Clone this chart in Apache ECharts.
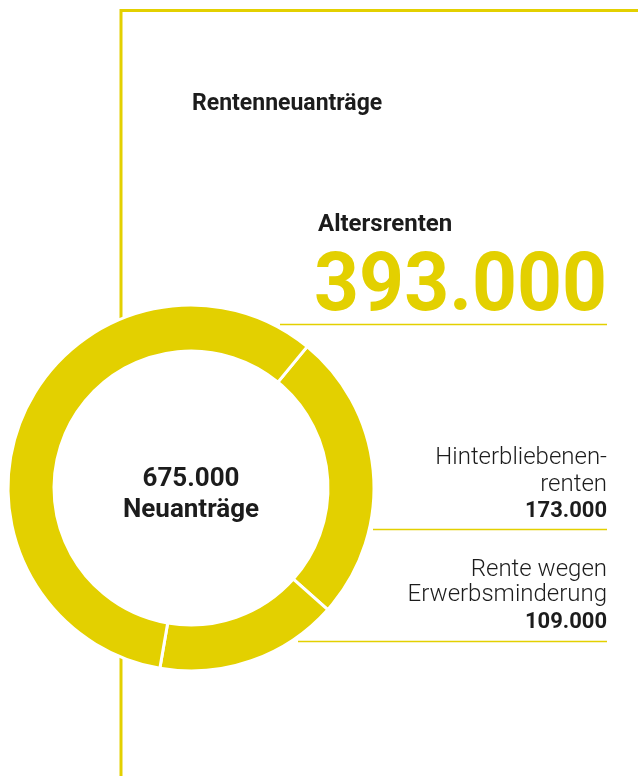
<!DOCTYPE html>
<html>
<head>
<meta charset="utf-8">
<script src="https://cdn.jsdelivr.net/npm/echarts@6/dist/echarts.min.js"></script>
<style>
  html, body { margin: 0; padding: 0; background: #fff; }
  #chart { width: 638px; height: 776px; }
</style>
</head>
<body>
<div id="chart"></div>
<script>
// Rentenneuanträge, Anzahl
var categories = ['Hinterbliebenenrenten', 'Rente wegen Erwerbsminderung', 'Altersrenten'];
var values = [173000, 109000, 393000];
var totalLabel = 'Neuanträge';

var yellow = '#E3D000';
var ink = '#1c1c1c';
var font = 'Roboto, "DejaVu Sans", sans-serif';

function fmt(n) {
  return String(n).replace(/\B(?=(\d{3})+(?!\d))/g, '.');
}

var total = 0;
for (var i = 0; i < values.length; i++) total += values[i];

var chart = echarts.init(document.getElementById('chart'), null, { renderer: 'canvas' });

var pieData = [];
for (var i = 0; i < categories.length; i++) {
  pieData.push({ name: categories[i], value: values[i] });
}

// text helper: right-aligned at x=607
function rtext(str, top, f, color) {
  return { type: 'text', z: 10, x: 607, y: top,
    style: { text: str, font: f, fill: color || ink, align: 'right', verticalAlign: 'top' } };
}
function ctext(str, top, f) {
  return { type: 'text', z: 10, x: 191, y: top,
    style: { text: str, font: f, fill: ink, align: 'center', verticalAlign: 'top' } };
}

var option = {
  animation: false,
  backgroundColor: '#fff',
  graphic: [
    // frame lines
    { type: 'line', z: 0, shape: { x1: 121, y1: 10.5, x2: 638, y2: 10.5 }, style: { stroke: yellow, lineWidth: 3 } },
    { type: 'line', z: 0, shape: { x1: 121, y1: 9, x2: 121, y2: 330 }, style: { stroke: yellow, lineWidth: 3 } },
    { type: 'line', z: 0, shape: { x1: 121, y1: 650, x2: 121, y2: 776 }, style: { stroke: yellow, lineWidth: 3 } },
    // label rules
    { type: 'line', z: 0, shape: { x1: 280, y1: 324.5, x2: 607, y2: 324.5 }, style: { stroke: yellow, lineWidth: 1.5 } },
    { type: 'line', z: 0, shape: { x1: 373, y1: 529.5, x2: 607, y2: 529.5 }, style: { stroke: yellow, lineWidth: 1.5 } },
    { type: 'line', z: 0, shape: { x1: 298, y1: 641.5, x2: 607, y2: 641.5 }, style: { stroke: yellow, lineWidth: 1.5 } },
    // title
    { type: 'text', z: 10, x: 192, y: 93,
      style: { text: 'Rentenneuanträge', font: 'bold 23px ' + font, fill: ink, verticalAlign: 'top' } },
    // Altersrenten
    { type: 'text', z: 10, x: 318, y: 213,
      style: { text: categories[2], font: 'bold 24px ' + font, fill: ink, verticalAlign: 'top' } },
    { type: 'text', z: 10, x: 607, y: 248, scaleX: 0.957,
      style: { text: fmt(values[2]), font: 'bold 82px ' + font, fill: yellow, align: 'right', verticalAlign: 'top' } },
    // Hinterbliebenenrenten
    rtext('Hinterbliebenen-', 446, '300 24px ' + font),
    rtext('renten', 473, '300 24px ' + font),
    rtext(fmt(values[0]), 500, 'bold 22px ' + font),
    // Erwerbsminderung
    rtext('Rente wegen', 558, '300 24px ' + font),
    rtext('Erwerbsminderung', 583, '300 24px ' + font),
    rtext(fmt(values[1]), 611, 'bold 22px ' + font),
    // center
    ctext(fmt(total), 466, 'bold 26px ' + font),
    ctext(totalLabel, 497, 'bold 26px ' + font)
  ],
  series: [{
    type: 'pie',
    z: 5,
    center: [191, 488],
    radius: [137, 183],
    startAngle: 50.6,
    clockwise: true,
    silent: true,
    label: { show: false },
    labelLine: { show: false },
    emphasis: { disabled: true },
    itemStyle: { color: yellow, borderColor: '#fff', borderWidth: 3 },
    data: pieData
  }]
};

chart.setOption(option);
</script>
</body>
</html>
